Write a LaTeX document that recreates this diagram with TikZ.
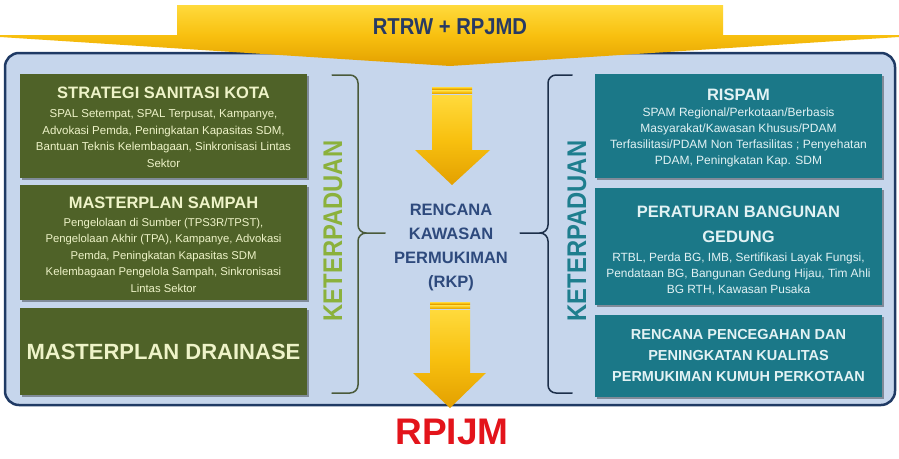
\documentclass[tikz,border=0pt]{standalone}
\usepackage{fontspec}
\setmainfont{Liberation Sans}
\newfontfamily\narrowfont[FakeStretch=0.88]{Liberation Sans}
\usetikzlibrary{shadows}
\definecolor{bgblue}{HTML}{C6D6EC}
\definecolor{panelborder}{HTML}{1F3A64}
\definecolor{boxgreen}{HTML}{4F6228}
\definecolor{boxteal}{HTML}{1B7888}
\definecolor{greentext}{HTML}{EEF3C8}
\definecolor{tealtext}{HTML}{E2F2F4}
\definecolor{ketgreen}{HTML}{8BB13C}
\definecolor{ketteal}{HTML}{1E7E8E}
\definecolor{centertext}{HTML}{2E4A7D}
\definecolor{toptext}{HTML}{283A63}
\definecolor{rpijmred}{HTML}{E3141B}
\definecolor{braceleft}{HTML}{4A5A3A}
\definecolor{braceright}{HTML}{1C2F4A}
\definecolor{yellowA}{HTML}{FFDA3C}
\definecolor{yellowB}{HTML}{F8C00F}
\definecolor{yellowC}{HTML}{E3A000}
\begin{document}
\begin{tikzpicture}[x=1pt,y=-1pt,
  shadowed/.style={drop shadow={shadow xshift=1.5pt,shadow yshift=-1.5pt,opacity=0.35,fill=black}},
  gbox/.style={fill=boxgreen,shadowed,inner sep=0pt},
  tbox/.style={fill=boxteal,shadowed,inner sep=0pt},
  gtitle/.style={font=\bfseries\fontsize{16.5}{20}\selectfont,text=greentext,inner sep=0pt,align=center},
  gbody/.style={font=\fontsize{11.5}{16.8}\selectfont,text=greentext,inner sep=0pt,align=center},
  ttitle/.style={font=\bfseries\fontsize{16.5}{25}\selectfont,text=tealtext,inner sep=0pt,align=center},
  tbody/.style={font=\fontsize{12}{16.2}\selectfont,text=tealtext,inner sep=0pt,align=center},
  ketlabel/.style={font=\narrowfont\bfseries\fontsize{27}{30}\selectfont,rotate=90,inner sep=0pt},
  arrowshade/.style={top color=yellowA,bottom color=yellowC,middle color=yellowB},
  bracepath/.style={line width=1.5pt,line cap=round,line join=round}
]
\useasboundingbox (0,0) rectangle (899,458);
\fill[white] (0,0) rectangle (899,458);

% main panel
\node[fill=bgblue,draw=panelborder,line width=2.5pt,rounded corners=14pt,
      minimum width=890pt,minimum height=352pt,inner sep=0pt] (panel) at (450,229) {};

% top chevron
\shade[top color=yellowA,bottom color=yellowC,middle color=yellowB]
  (177,5) -- (723,5) -- (723,35) -- (899,35) -- (899,37) -- (450,66)
  -- (0,37) -- (0,35) -- (177,35) -- cycle;
\node[font=\narrowfont\bfseries\fontsize{23}{26}\selectfont,text=toptext,inner sep=0pt] (top) at (450,26.5) {RTRW + RPJMD};

% left boxes
\node[gbox,minimum width=287pt,minimum height=104pt] (ssk) at (163.5,126) {};
\node[gbox,minimum width=287pt,minimum height=115pt] (mps) at (163.5,242.5) {};
\node[gbox,minimum width=287pt,minimum height=87pt] (mpd) at (163.5,351.5) {};

\node[gtitle] (sskt) at (163.5,93) {STRATEGI SANITASI KOTA};
\node[gbody] (sskb) at (163.5,138.5) {SPAL Setempat, SPAL Terpusat, Kampanye,\\Advokasi Pemda, Peningkatan Kapasitas SDM,\\Bantuan Teknis Kelembagaan, Sinkronisasi Lintas\\Sektor};
\node[gtitle] (mpst) at (163.5,203) {MASTERPLAN SAMPAH};
\node[gbody,font=\fontsize{11.3}{16.5}\selectfont] (mpsb) at (163.5,255) {Pengelolaan di Sumber (TPS3R/TPST),\\Pengelolaan Akhir (TPA), Kampanye, Advokasi\\Pemda, Peningkatan Kapasitas SDM\\Kelembagaan Pengelola Sampah, Sinkronisasi\\Lintas Sektor};
\node[gtitle,font=\bfseries\fontsize{22}{24}\selectfont] (mpdt) at (163.5,352) {MASTERPLAN DRAINASE};

% right boxes
\node[tbox,minimum width=287pt,minimum height=104pt] (rispam) at (738.5,126) {};
\node[tbox,minimum width=287pt,minimum height=117pt] (pbg) at (738.5,246.5) {};
\node[tbox,minimum width=287pt,minimum height=82pt] (rp) at (738.5,356) {};

\node[ttitle] (rispamt) at (738.5,95) {RISPAM};
\node[tbody] (rispamb) at (738.5,137.5) {SPAM Regional/Perkotaan/Berbasis\\Masyarakat/Kawasan Khusus/PDAM\\Terfasilitasi/PDAM Non Terfasilitas ; Penyehatan\\PDAM, Peningkatan Kap. SDM};
\node[ttitle] (pbgt) at (738.5,224.5) {PERATURAN BANGUNAN\\GEDUNG};
\node[tbody,font=\fontsize{11.9}{16}\selectfont] (pbgb) at (738.5,274) {RTBL, Perda BG, IMB, Sertifikasi Layak Fungsi,\\Pendataan BG, Bangunan Gedung Hijau, Tim Ahli\\BG RTH, Kawasan Pusaka};
\node[ttitle,font=\bfseries\fontsize{14.5}{21}\selectfont] (rpt) at (738.5,356) {RENCANA PENCEGAHAN DAN\\PENINGKATAN KUALITAS\\PERMUKIMAN KUMUH PERKOTAAN};

% KETERPADUAN labels
\node[ketlabel,text=ketgreen] (ketl) at (333,231) {KETERPADUAN};
\node[ketlabel,text=ketteal] (ketr) at (577,231) {KETERPADUAN};

% center text
\node[font=\bfseries\fontsize{16.5}{24}\selectfont,text=centertext,align=center,inner sep=0pt] (rkp) at (451,247.5) {RENCANA\\KAWASAN\\PERMUKIMAN\\(RKP)};

% braces
\coordinate (bl) at (385,233);
\coordinate (br) at (520,233);
\draw[bracepath,braceleft] (332,75) -- (350,75) to[out=0,in=90] (358,83) -- (358,225)
  to[out=-90,in=180] (366,233) -- (bl);
\draw[bracepath,braceleft] (366,233) to[out=180,in=90] (358,241) -- (358,385)
  to[out=-90,in=0] (350,393) -- (332,393);
\draw[bracepath,braceright] (572,75) -- (556,75) to[out=180,in=90] (548,83) -- (548,225)
  to[out=-90,in=0] (540,233) -- (br);
\draw[bracepath,braceright] (540,233) to[out=0,in=90] (548,241) -- (548,385)
  to[out=-90,in=180] (556,393) -- (572,393);

% center arrows
\shade[arrowshade] (432,87) rectangle (472,89);
\shade[arrowshade] (432,90.5) rectangle (472,93.5);
\shade[arrowshade] (432,95) -- (472,95) -- (472,150) -- (490,150) -- (452,185)
  -- (415,150) -- (432,150) -- cycle;
\shade[arrowshade] (430,302) rectangle (470,304);
\shade[arrowshade] (430,305.5) rectangle (470,308.5);
\shade[arrowshade] (430,310) -- (470,310) -- (470,373) -- (486,373) -- (450,408)
  -- (413,373) -- (430,373) -- cycle;

% RPIJM
\node[font=\bfseries\fontsize{37}{40}\selectfont,text=rpijmred,inner sep=0pt] (rpijm) at (452,431.5) {RPIJM};
\end{tikzpicture}
\end{document}
